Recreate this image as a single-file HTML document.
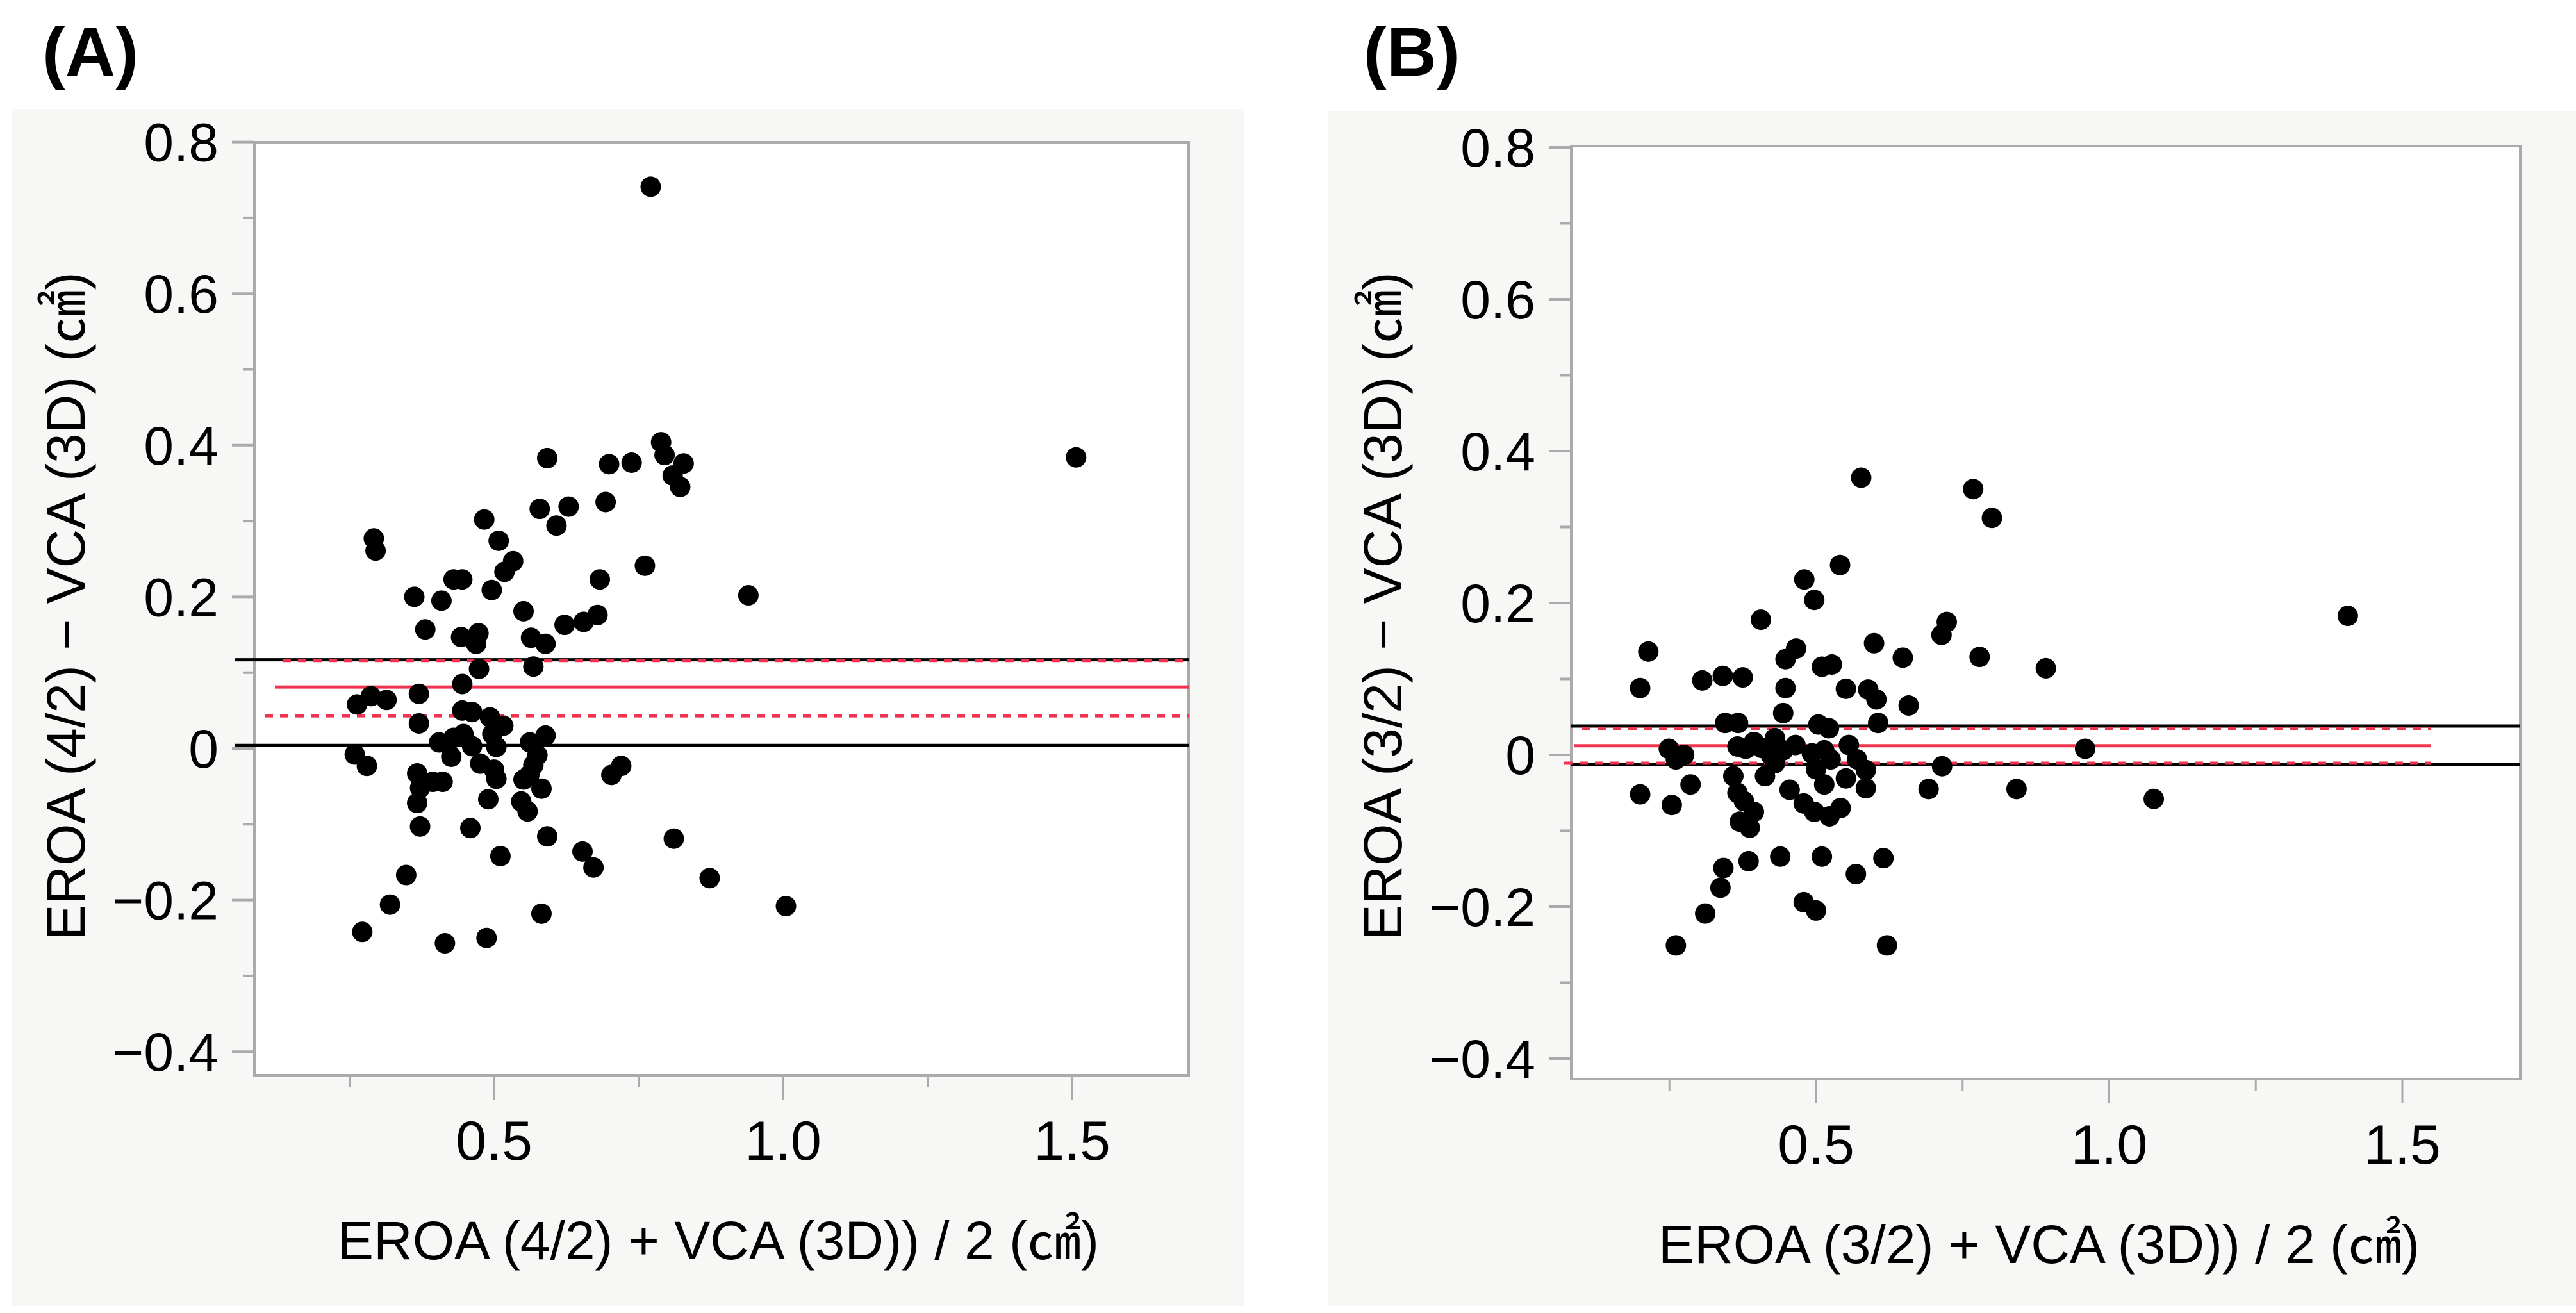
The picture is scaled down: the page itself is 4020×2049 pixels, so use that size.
<!DOCTYPE html>
<html><head><meta charset="utf-8"><style>
html,body{margin:0;padding:0;background:#fff;width:4020px;height:2049px;overflow:hidden}
svg text{font-family:"Liberation Sans",sans-serif;fill:#000}
</style></head><body>
<svg id="c" width="4020" height="2049" viewBox="0 0 4020 2049" xmlns="http://www.w3.org/2000/svg">
<text x="66" y="118" font-size="108" font-weight="bold">(A)</text>
<text x="2128" y="118" font-size="108" font-weight="bold">(B)</text>
</svg>
<script>
// Panel A data
const aX=[0.771,1.507,0.94,1.005,0.873,0.811,0.592,0.699,0.738,0.789,0.795,0.828,0.809,0.822,0.579,0.629,0.693,0.608,0.483,0.508,0.533,0.518,0.496,0.761,0.683,0.679,0.655,0.622,0.551,0.564,0.589,0.568,0.473,0.469,0.443,0.474,0.43,0.445,0.409,0.362,0.381,0.292,0.295,0.263,0.287,0.314,0.37,0.37,0.445,0.445,0.462,0.493,0.497,0.516,0.447,0.43,0.405,0.462,0.504,0.562,0.589,0.575,0.426,0.259,0.28,0.367,0.476,0.5,0.504,0.568,0.561,0.551,0.372,0.394,0.411,0.582,0.703,0.72,0.367,0.49,0.547,0.558,0.372,0.459,0.592,0.511,0.653,0.672,0.348,0.32,0.272,0.415,0.487,0.582];
const aY=[0.741,0.384,0.202,-0.208,-0.171,-0.119,0.383,0.375,0.377,0.404,0.387,0.376,0.36,0.345,0.316,0.319,0.325,0.294,0.302,0.274,0.247,0.233,0.209,0.241,0.223,0.176,0.167,0.163,0.181,0.146,0.138,0.108,0.152,0.138,0.147,0.105,0.223,0.223,0.195,0.2,0.157,0.277,0.261,0.058,0.069,0.064,0.072,0.033,0.085,0.05,0.048,0.041,0.019,0.03,0.019,0.014,0.008,0.003,0.002,0.008,0.017,-0.009,-0.011,-0.008,-0.023,-0.033,-0.02,-0.028,-0.04,-0.022,-0.035,-0.041,-0.052,-0.044,-0.044,-0.053,-0.035,-0.023,-0.072,-0.067,-0.07,-0.083,-0.103,-0.105,-0.116,-0.142,-0.136,-0.157,-0.167,-0.206,-0.242,-0.257,-0.25,-0.218];
// Panel B data
const bX=[1.407,0.959,1.076,0.842,0.892,0.768,0.8,0.779,0.723,0.714,0.715,0.692,0.648,0.658,0.577,0.541,0.48,0.497,0.406,0.466,0.448,0.51,0.527,0.599,0.589,0.603,0.551,0.448,0.444,0.606,0.341,0.375,0.306,0.214,0.2,0.345,0.367,0.504,0.522,0.43,0.408,0.394,0.38,0.366,0.423,0.444,0.465,0.493,0.514,0.525,0.556,0.57,0.585,0.585,0.551,0.514,0.5,0.359,0.366,0.377,0.394,0.37,0.387,0.413,0.43,0.249,0.261,0.275,0.286,0.2,0.254,0.455,0.479,0.497,0.523,0.542,0.439,0.51,0.385,0.342,0.337,0.615,0.568,0.479,0.5,0.311,0.261,0.621];
const bY=[0.183,0.008,-0.058,-0.045,0.114,0.35,0.312,0.129,0.175,0.158,-0.015,-0.045,0.128,0.065,0.365,0.25,0.231,0.204,0.178,0.14,0.126,0.116,0.119,0.147,0.086,0.073,0.087,0.088,0.055,0.042,0.104,0.102,0.098,0.136,0.088,0.042,0.042,0.04,0.035,0.022,0.009,0.017,0.008,0.011,0,0.006,0.013,0.002,0.006,-0.006,0.013,-0.006,-0.02,-0.044,-0.031,-0.039,-0.019,-0.028,-0.05,-0.061,-0.075,-0.088,-0.096,-0.028,-0.011,0.008,-0.006,0,-0.039,-0.052,-0.066,-0.046,-0.064,-0.075,-0.081,-0.07,-0.134,-0.134,-0.14,-0.149,-0.175,-0.136,-0.157,-0.194,-0.205,-0.209,-0.251,-0.251];
// Reference lines: [upper LoA(black), lower(black), mean(red), CI upper(red dash), CI lower(red dash)]
const aLines=[0.117,0.004,0.081,0.116,0.043];
const bLines=[0.038,-0.013,0.012,0.035,-0.011];
const yTicks=[0.8,0.6,0.4,0.2,0,-0.2,-0.4];
const yTickLabels=["0.8","0.6","0.4","0.2","0","\u22120.2","\u22120.4"];
const xTicks=[0.5,1.0,1.5];
const xTickLabels=["0.5","1.0","1.5"];

const svg=document.getElementById('c');
const NS='http://www.w3.org/2000/svg';
function mk(tag,attrs,parent){const e=document.createElementNS(NS,tag);for(const k in attrs)e.setAttribute(k,attrs[k]);(parent||svg).appendChild(e);return e;}

function panel(p){
  const g=mk('g',{});
  
  
  const bg=mk('rect',{x:p.bg[0],y:p.bg[1],width:p.bg[2]-p.bg[0],height:p.bg[3]-p.bg[1],fill:'#f7f7f6'},g);
  
  
  const plot=mk('rect',{x:p.L,y:p.T,width:p.R-p.L,height:p.B-p.T,fill:'#fff',stroke:'#aaa','stroke-width':4},g);
  
  
  const sy=v=>p.y0+(0-v)*p.ky;
  const sx=v=>p.x05+(v-0.5)*p.kx;
  for(let v=-0.4;v<=0.801;v+=0.1){
    const major=Math.abs(Math.round(v*10))%2===0;
    mk('line',{x1:p.L-(major?35:18),x2:p.L,y1:sy(v),y2:sy(v),stroke:'#aaa','stroke-width':4},g);
  }
  yTicks.forEach((v,i)=>{
    const t=mk('text',{x:p.L-56,y:sy(v)+30,'font-size':84,'text-anchor':'end'},g);
    t.textContent=yTickLabels[i];
    
    
  });
  for(let v=0.25;v<=1.751;v+=0.25){
    const x=sx(v); if(x>p.R) continue;
    const major=Math.abs(Math.round(v*4))%2===0;
    mk('line',{x1:x,x2:x,y1:p.B,y2:p.B+(major?38:18),stroke:'#aaa','stroke-width':3},g);
  }
  xTicks.forEach((v,i)=>{
    const t=mk('text',{x:sx(v),y:p.B+132,'font-size':86,'text-anchor':'middle'},g);
    t.textContent=xTickLabels[i];
    
    
  });
  const L=p.lines;
  const l1=mk('line',{x1:p.blackX0,x2:p.R,y1:sy(L[0]),y2:sy(L[0]),stroke:'#000','stroke-width':5},g);
  
  
  const l2=mk('line',{x1:p.blackX0,x2:p.R,y1:sy(L[1]),y2:sy(L[1]),stroke:'#000','stroke-width':5},g);
  
  
  const l3=mk('line',{x1:p.redX0,x2:p.redX1,y1:sy(L[2]),y2:sy(L[2]),stroke:'#f0334f','stroke-width':5},g);
  
  
  const l4=mk('line',{x1:p.redX0+12,x2:p.redX1,y1:sy(L[3]),y2:sy(L[3]),stroke:'#f0334f','stroke-width':5,'stroke-dasharray':'13 11'},g);
  
  
  const l5=mk('line',{x1:p.redX0-16,x2:p.redX1,y1:sy(L[4]),y2:sy(L[4]),stroke:'#f0334f','stroke-width':5,'stroke-dasharray':'13 11'},g);
  
  
  p.xs.forEach((xv,i)=>{
    const c=mk('circle',{cx:sx(xv),cy:sy(p.ys[i]),r:16,fill:'#000'},g);
    
    
  });
  const xt=mk('text',{x:p.xTitleX,y:p.B+287,'font-size':84,'text-anchor':'middle'},g);
  xt.textContent=p.xTitle;
  
  
  const yt=mk('text',{x:0,y:0,'font-size':84,'text-anchor':'middle',transform:`translate(${p.yTitleX},${p.yTitleY}) rotate(-90)`},g);
  yt.textContent=p.yTitle;
  
  
}

panel({name:'panel-a-chart',bg:[18,170,1942,2038],L:397,R:1855,T:222,B:1678,y0:1168,ky:1183,x05:771,kx:902,
  lines:aLines,blackX0:367,redX0:429,redX1:1855,xs:aX,ys:aY,
  xTitle:'EROA (4/2) + VCA (3D)) / 2 (\u33A0)',xTitleX:1121,yTitle:'EROA (4/2) \u2212 VCA (3D) (\u33A0)',yTitleX:132,yTitleY:946});
panel({name:'panel-b-chart',bg:[2072,174,4020,2038],L:2452,R:3933,T:228,B:1684,y0:1178,ky:1185,x05:2834,kx:915,
  lines:bLines,blackX0:2452,redX0:2457,redX1:3794,xs:bX,ys:bY,
  xTitle:'EROA (3/2) + VCA (3D)) / 2 (\u33A0)',xTitleX:3182,yTitle:'EROA (3/2) \u2212 VCA (3D) (\u33A0)',yTitleX:2187,yTitleY:946});
</script>
</body></html>
